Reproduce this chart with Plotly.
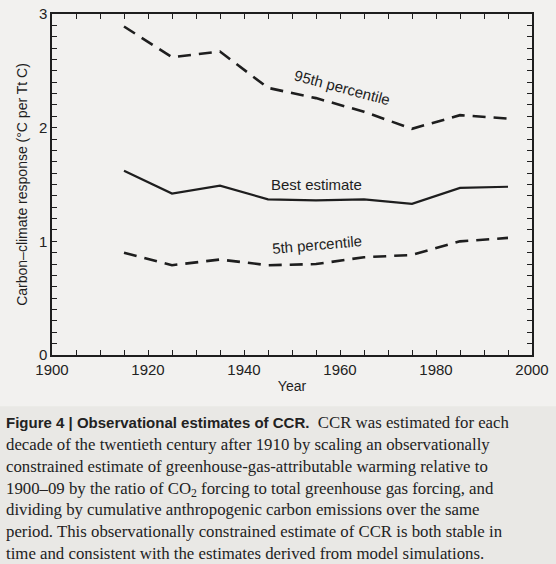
import plotly.graph_objects as go

# decade midpoints
years = [1915, 1925, 1935, 1945, 1955, 1965, 1975, 1985, 1995]
p95 = [2.89, 2.62, 2.67, 2.35, 2.26, 2.14, 1.99, 2.11, 2.08]
best = [1.62, 1.42, 1.49, 1.37, 1.36, 1.37, 1.33, 1.47, 1.48]
p5 = [0.90, 0.79, 0.84, 0.79, 0.80, 0.86, 0.88, 1.00, 1.03]

x_ticks = [1900, 1920, 1940, 1960, 1980, 2000]
y_ticks = [0, 1, 2, 3]

bg = "#f2f1ef"
ink = "#1e1e1e"
sans = "Liberation Sans, Arial, sans-serif"
serif = "Liberation Serif, Times New Roman, serif"

fig = go.Figure()
fig.add_trace(go.Scatter(x=years, y=p95, mode="lines",
                         line=dict(color=ink, width=2.6, dash="13px,8px")))
fig.add_trace(go.Scatter(x=years, y=best, mode="lines",
                         line=dict(color=ink, width=2.2)))
fig.add_trace(go.Scatter(x=years, y=p5, mode="lines",
                         line=dict(color=ink, width=2.6, dash="13px,8px")))

# line labels
fig.add_annotation(x=1960.5, y=2.35, text="95th percentile", showarrow=False,
                   textangle=15, font=dict(family=sans, size=15, color=ink))
fig.add_annotation(x=1955, y=1.50, text="Best estimate", showarrow=False,
                   font=dict(family=sans, size=15, color=ink))
fig.add_annotation(x=1955.3, y=0.97, text="5th percentile", showarrow=False,
                   textangle=-5, font=dict(family=sans, size=15, color=ink))

caption = (
    "<span style='font-family:Liberation Sans;font-size:15px'><b>Figure 4 | Observational estimates of CCR.</b></span>"
    "  CCR was estimated for each<br>"
    "decade of the twentieth century after 1910 by scaling an observationally<br>"
    "constrained estimate of greenhouse-gas-attributable warming relative to<br>"
    "1900–09 by the ratio of CO<sub>2</sub> forcing to total greenhouse gas forcing, and<br>"
    "dividing by cumulative anthropogenic carbon emissions over the same<br>"
    "period. This observationally constrained estimate of CCR is both stable in<br>"
    "time and consistent with the estimates derived from model simulations."
)
fig.add_annotation(xref="paper", yref="paper", x=-0.1, y=-0.163,
                   xanchor="left", yanchor="top", align="left",
                   text=caption, showarrow=False,
                   font=dict(family=serif, size=16.8, color="#222"))

fig.add_shape(type="rect", xref="paper", yref="paper", layer="below",
              x0=-0.2, x1=1.2, y0=-0.15, y1=-1.0,
              fillcolor="#e9e8e5", line=dict(width=0))

axis_common = dict(
    showline=True, linecolor=ink, linewidth=1.5, mirror="allticks",
    ticks="inside", ticklen=5, tickwidth=1, tickcolor=ink,
    showgrid=False, zeroline=False, automargin=False,
    tickfont=dict(family=sans, size=15, color="#222"),
)

fig.update_xaxes(range=[1900, 2000], tickvals=x_ticks,
                 minor=dict(dtick=5, ticks="inside", ticklen=5, tickcolor=ink),
                 title=dict(text="Year", font=dict(family=sans, size=14, color=ink),
                            standoff=4),
                 **axis_common)
fig.update_yaxes(range=[0, 3], tickvals=y_ticks,
                 minor=dict(dtick=0.1, ticks="inside", ticklen=5, tickcolor=ink),
                 title=dict(text="Carbon–climate response (°C per Tt C)",
                            font=dict(family=sans, size=14, color=ink), standoff=8),
                 **axis_common)

fig.update_layout(
    width=556, height=564,
    margin=dict(l=52, r=24, t=14, b=209),
    paper_bgcolor=bg, plot_bgcolor=bg,
    showlegend=False,
)

# drop the browser's default page margin so the figure sits at 0,0
fig.write_html("out.html", config={"displayModeBar": False},
               post_script="document.body.style.margin='0';"
                           "document.body.style.background='%s';" % bg)
